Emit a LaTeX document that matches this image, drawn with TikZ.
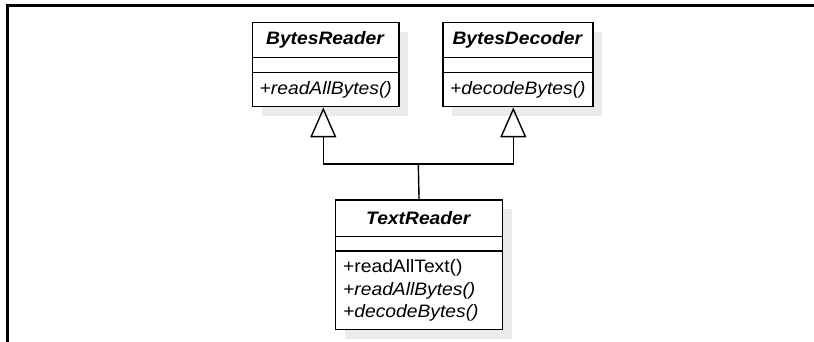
\documentclass[tikz,border=0pt]{standalone}
\usepackage{fontspec}
\setmainfont[FakeStretch=1.07]{Liberation Sans}
\usetikzlibrary{arrows.meta,calc}
\definecolor{shadowgray}{HTML}{EBEBEB}
\tikzset{
  umlbox/.style={draw=black, line width=1.4pt, fill=white, rectangle, anchor=north west, inner sep=0pt},
  boxshadow/.style={fill=shadowgray, draw=none},
  titletext/.style={font=\fontsize{18}{21}\selectfont\bfseries\itshape, inner sep=0pt},
  methodtext/.style={font=\fontsize{18}{21}\selectfont, inner sep=0pt, anchor=west},
  sepline/.style={line width=1.3pt},
  inherit/.style={line width=1.4pt, -{Triangle[open, length=30pt, width=26pt, line width=1.4pt]}},
  framebar/.style={line width=3pt, line cap=butt},
}
\begin{document}
\begin{tikzpicture}[x=1pt, y=-1pt]
\useasboundingbox (0,0) rectangle (814,342);
% frame
\draw[framebar] (7,342) -- (7,6) -- (814,6);
% shadows
\fill[boxshadow] (261.7,31.7) rectangle (408.3,116);
\fill[boxshadow] (452.3,31.7) rectangle (602.3,116);
\fill[boxshadow] (345,209.3) rectangle (511.7,339);
% BytesReader
\node[umlbox, minimum width=146.6pt, minimum height=84.3pt] (br) at (251.7,21.7) {};
\draw[sepline] (251.7,57.7) -- (398.3,57.7);
\draw[sepline] (251.7,72.3) -- (398.3,72.3);
\node[titletext] (brt) at (325,39.7) {BytesReader};
\node[methodtext] (brm) at (259.5,89.5) {\itshape +readAllBytes()};
% BytesDecoder
\node[umlbox, minimum width=150pt, minimum height=84.3pt] (bd) at (442.3,21.7) {};
\draw[sepline] (442.3,57.7) -- (592.3,57.7);
\draw[sepline] (442.3,72.3) -- (592.3,72.3);
\node[titletext] (bdt) at (517.3,39.7) {BytesDecoder};
\node[methodtext] (bdm) at (450,89.5) {\itshape +decodeBytes()};
% TextReader
\node[umlbox, minimum width=166.7pt, minimum height=129.7pt] (tr) at (335,199.3) {};
\draw[sepline] (335,236.7) -- (501.7,236.7);
\draw[sepline] (335,251) -- (501.7,251);
\node[titletext] (trt) at (418.3,218) {TextReader};
\node[methodtext] (trm1) at (343,268) {+readAllText()};
\node[methodtext] (trm2) at (343,290.5) {\itshape +readAllBytes()};
\node[methodtext] (trm3) at (343,312.7) {\itshape +decodeBytes()};
% connectors
\coordinate (j) at (418.3,164);
\coordinate (jl) at (323.3,164);
\coordinate (jr) at (513.3,164);
\draw[line width=1.4pt] (tr.north) -- (j);
\draw[inherit] (j) -- (jl) -- (jl |- br.south);
\draw[inherit] (j) -- (jr) -- (jr |- bd.south);
\end{tikzpicture}
\end{document}
